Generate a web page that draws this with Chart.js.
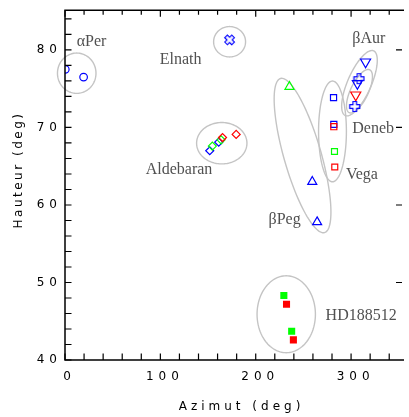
<!DOCTYPE html>
<html>
<head>
<meta charset="utf-8">
<script src="https://cdn.jsdelivr.net/npm/chart.js@4.4.0/dist/chart.umd.min.js"></script>
<style>
  html, body { margin: 0; padding: 0; background: #fff; overflow: hidden; }
  canvas { display: block; }
</style>
</head>
<body>
<canvas id="sky" width="409" height="417"></canvas>
<script>
// star positions (azimut, hauteur) in degrees
const perX = [0.3, 19.5],        perY = [77.5, 76.5];      // alpha Per, blue circles
const elnX = [172.6],            elnY = [81.3];            // Elnath, blue x
const aldBlueX = [151.8, 161.2], aldBlueY = [67.0, 68.1];  // Aldebaran diamonds
const aldGreenX = [154.5, 163.7], aldGreenY = [67.6, 68.4];
const aldRedX = [165.2, 179.5],  aldRedY = [68.7, 69.1];
const aurBlueX = [315.2, 306.6], aurBlueY = [78.46, 75.68]; // beta Aur, down triangles
const aurRedX = [304.9],         aurRedY = [74.2];
const aurPlusX = [308.3, 303.9], aurPlusY = [76.3, 72.7];
const denBlueX = [281.6, 281.9], denBlueY = [73.85, 70.4]; // Deneb squares
const denRedX = [281.9],         denRedY = [70.1];
const vegGreenX = [282.6],       vegGreenY = [66.9];       // Vega squares
const vegRedX = [282.9],         vegRedY = [64.9];
const pegGreenX = [235.4],       pegGreenY = [75.26];      // beta Peg triangles
const pegBlueX = [259.3, 264.4], pegBlueY = [63.0, 57.8];
const hdGreenX = [229.5, 237.7], hdGreenY = [48.33, 43.7]; // HD188512 filled squares
const hdRedX = [232.3, 239.5],   hdRedY = [47.2, 42.6];

const xTicks = [0, 100, 200, 300];
const yTicks = [40, 50, 60, 70, 80];

// group names and where they sit (data units, left / baseline)
const starNames = ['αPer', 'Elnath', 'βAur', 'Deneb', 'Vega', 'βPeg', 'Aldebaran', 'HD188512'];
const nameX = [12.3, 99.4, 301.3, 301.3, 294.6, 213.4, 84.6, 273.3];
const nameY = [80.51, 78.2, 80.94, 69.27, 63.37, 57.6, 64.01, 45.22];

// grey rings: centre + two half-axis vectors, all in data units
const rings = [
  {cx: 12.3,  cy: 77.0,  ux: 20.2,   uy: 0,    vx: 0,     vy: 2.6},
  {cx: 172.6, cy: 81.06, ux: 16.75,  uy: 0,    vx: 0,     vy: 1.96},
  {cx: 164.4, cy: 67.97, ux: 26.4,   uy: 0,    vx: 0,     vy: 2.67},
  {cx: 232.0, cy: 45.9,  ux: 30.6,   uy: 0,    vx: 0,     vy: 4.96},
  {cx: 280.5, cy: 69.49, ux: 14.6,   uy: 0,    vx: 0,     vy: 6.5},
  {cx: 249.1, cy: 66.38, ux: -23.12, uy: 9.94, vx: 18.76, vy: 0.68},
  {cx: 308.8, cy: 75.71, ux: 14.9,   uy: 4.17, vx: 11.26, vy: -0.63},
  {cx: 308.8, cy: 74.68, ux: 10.79,  uy: 2.76, vx: 8.31,  vy: -0.51}
];

const BLUE = '#0000ff', RED = '#ff0000', GREEN = '#00ff00';

function pts(xs, ys) {
  return xs.map((x, i) => ({x: x, y: ys[i]}));
}

// hollow plus used for beta Aur and (turned 45deg) Elnath
function hollowPlus(color) {
  const c = document.createElement('canvas');
  c.width = 13; c.height = 13;
  const g = c.getContext('2d');
  const a = 1.8, L = 5, o = 6.5;
  g.strokeStyle = color;
  g.lineWidth = 1.2;
  g.beginPath();
  g.moveTo(o - a, o - L); g.lineTo(o + a, o - L); g.lineTo(o + a, o - a);
  g.lineTo(o + L, o - a); g.lineTo(o + L, o + a); g.lineTo(o + a, o + a);
  g.lineTo(o + a, o + L); g.lineTo(o - a, o + L); g.lineTo(o - a, o + a);
  g.lineTo(o - L, o + a); g.lineTo(o - L, o - a); g.lineTo(o - a, o - a);
  g.closePath();
  g.stroke();
  return c;
}
const bluePlus = hollowPlus(BLUE);

function open(label, data, color, style, r, extra) {
  return Object.assign({
    label: label, data: data, pointStyle: style, pointRadius: r,
    borderColor: color, backgroundColor: 'rgba(0,0,0,0)', pointBorderWidth: 1.2,
    showLine: false, clip: 0
  }, extra || {});
}

const datasets = [
  open('perBlue', pts(perX, perY), BLUE, 'circle', 3.8),
  open('eln', pts(elnX, elnY), BLUE, bluePlus, 5, {rotation: 45}),
  open('aldRed', pts(aldRedX, aldRedY), RED, 'rectRot', 4),
  open('aldGreen', pts(aldGreenX, aldGreenY), GREEN, 'rectRot', 4),
  open('aldBlue', pts(aldBlueX, aldBlueY), BLUE, 'rectRot', 4),
  open('aurPlus', pts(aurPlusX, aurPlusY), BLUE, bluePlus, 5),
  open('aurRed', pts(aurRedX, aurRedY), RED, 'triangle', 5.8, {rotation: 180}),
  open('aurBlue', pts(aurBlueX, aurBlueY), BLUE, 'triangle', 5.8, {rotation: 180}),
  open('denRed', pts(denRedX, denRedY), RED, 'rect', 4.3),
  open('denBlue', pts(denBlueX, denBlueY), BLUE, 'rect', 4.3),
  open('vegRed', pts(vegRedX, vegRedY), RED, 'rect', 4.2),
  open('vegGreen', pts(vegGreenX, vegGreenY), GREEN, 'rect', 4.2),
  open('pegGreen', pts(pegGreenX, pegGreenY), GREEN, 'triangle', 5.2),
  open('pegBlue', pts(pegBlueX, pegBlueY), BLUE, 'triangle', 5.2),
  open('hdRed', pts(hdRedX, hdRedY), RED, 'rect', 5, {backgroundColor: RED, pointBorderWidth: 0}),
  open('hdGreen', pts(hdGreenX, hdGreenY), GREEN, 'rect', 5, {backgroundColor: GREEN, pointBorderWidth: 0})
];

const skyDecor = {
  id: 'skyDecor',
  beforeDraw(chart) {
    chart.ctx.letterSpacing = '5px';
  },
  beforeDatasetsDraw(chart) {
    const xs = chart.scales.x, ys = chart.scales.y, ctx = chart.ctx;
    ctx.save();
    ctx.strokeStyle = '#c4c4c4';
    ctx.lineWidth = 1.4;
    rings.forEach(r => {
      ctx.beginPath();
      for (let i = 0; i <= 120; i++) {
        const t = i / 120 * 2 * Math.PI, c = Math.cos(t), s = Math.sin(t);
        const X = xs.getPixelForValue(r.cx + r.ux * c + r.vx * s);
        const Y = ys.getPixelForValue(r.cy + r.uy * c + r.vy * s);
        if (i) ctx.lineTo(X, Y); else ctx.moveTo(X, Y);
      }
      ctx.closePath();
      ctx.stroke();
    });
    ctx.restore();
  },
  afterDraw(chart) {
    const xs = chart.scales.x, ys = chart.scales.y, ctx = chart.ctx;
    const a = chart.chartArea;
    ctx.save();
    ctx.strokeStyle = '#000';
    ctx.lineWidth = 1.5;
    // frame: left, top, bottom (right edge falls off the picture)
    ctx.beginPath();
    ctx.moveTo(a.right + 2, a.top); ctx.lineTo(a.left, a.top);
    ctx.lineTo(a.left, a.bottom); ctx.lineTo(a.right + 2, a.bottom);
    ctx.stroke();

    ctx.lineWidth = 1.2;
    ctx.beginPath();
    for (let v = 40; v <= 84; v += 2) {
      const y = ys.getPixelForValue(v);
      ctx.moveTo(a.left, y); ctx.lineTo(a.left + 6.5, y);
      if (v % 10 === 0 && v > 40) { ctx.moveTo(a.right, y); ctx.lineTo(a.right - 6, y); }
    }
    for (let v = 0; v <= 340; v += 20) {
      const x = xs.getPixelForValue(v);
      ctx.moveTo(x, a.bottom); ctx.lineTo(x, a.bottom - 6.5);
      ctx.moveTo(x, a.top); ctx.lineTo(x, a.top + (v % 100 === 0 ? 6.5 : 4.5));
    }
    ctx.stroke();

    // axis titles
    ctx.fillStyle = '#000';
    ctx.font = '12px "DejaVu Sans"';
    ctx.textBaseline = 'middle';
    ctx.textAlign = 'center';
    ctx.letterSpacing = '4px';
    ctx.fillText('Azimut (deg)', 241.5, 407);
    ctx.save();
    ctx.translate(18.5, 170);
    ctx.rotate(-Math.PI / 2);
    ctx.letterSpacing = '2.5px';
    ctx.fillText('Hauteur (deg)', 0, 0);
    ctx.restore();

    // group names
    ctx.letterSpacing = '0px';
    ctx.font = '16px "Liberation Serif"';
    ctx.fillStyle = '#505050';
    ctx.textAlign = 'left';
    ctx.textBaseline = 'alphabetic';
    starNames.forEach((n, i) => {
      ctx.fillText(n, xs.getPixelForValue(nameX[i]), ys.getPixelForValue(nameY[i]));
    });
    ctx.restore();
  }
};

const skyChart = new Chart(document.getElementById('sky'), {
  type: 'scatter',
  data: {datasets: datasets},
  options: {
    responsive: false,
    animation: false,
    devicePixelRatio: 1,
    layout: {padding: {top: 8, left: 0, right: 0, bottom: 0}},
    plugins: {legend: {display: false}, tooltip: {enabled: false}},
    scales: {
      x: {
        type: 'linear', min: 0, max: 353.4,
        grid: {display: false, drawTicks: false},
        border: {display: false},
        afterFit: s => { s.height = 57; },
        afterBuildTicks: s => { s.ticks = xTicks.map(v => ({value: v})); },
        ticks: {
          color: '#000', padding: 10, labelOffset: 4.5,
          font: {family: 'DejaVu Sans', size: 12},
          maxRotation: 0
        }
      },
      y: {
        type: 'linear', min: 40, max: 85.13,
        grid: {display: false, drawTicks: false},
        border: {display: false},
        afterFit: s => { s.width = 65; },
        afterBuildTicks: s => { s.ticks = yTicks.map(v => ({value: v})); },
        ticks: {
          color: '#000', padding: 3,
          font: {family: 'DejaVu Sans', size: 12}
        }
      }
    }
  },
  plugins: [skyDecor]
});
</script>
</body>
</html>
